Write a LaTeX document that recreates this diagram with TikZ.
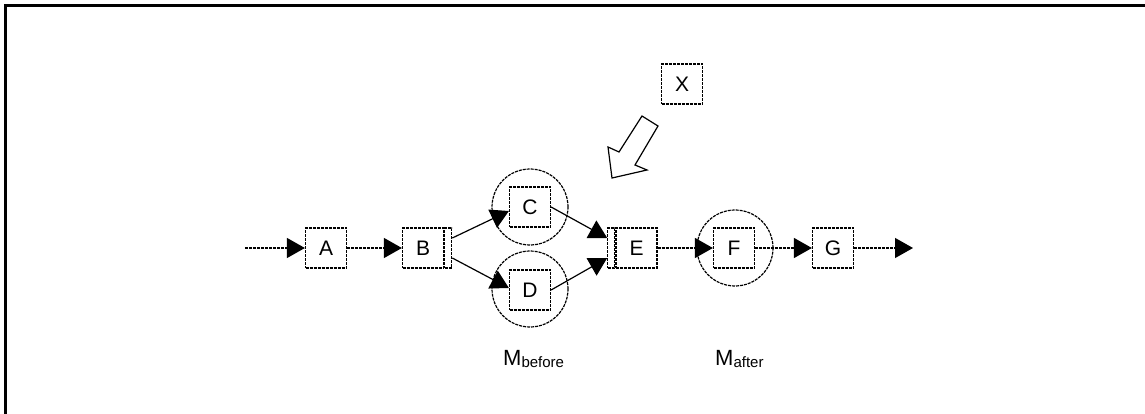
\documentclass[tikz,border=0pt]{standalone}
\usepackage{fontspec}
\setmainfont{Liberation Sans}
\usetikzlibrary{arrows.meta,positioning}
\tikzset{
  pnode/.style = {draw=black, rectangle, line width=1.2pt, dash pattern=on 3pt off 1pt, inner sep=0pt, minimum width=41pt, minimum height=40pt, font=\fontsize{21}{24}\selectfont},
  pbar/.style = {draw=black, rectangle, line width=1.2pt, dash pattern=on 3pt off 1pt, inner sep=0pt, minimum width=7pt, minimum height=40pt},
  mcircle/.style = {draw=black, circle, line width=1.2pt, dash pattern=on 3pt off 1pt, inner sep=0pt, minimum size=76pt},
  flow/.style = {line width=1.2pt, dash pattern=on 3pt off 1pt, -{Triangle[length=18pt,width=20pt]}},
  link/.style = {line width=1.2pt, -{Triangle[length=18pt,width=20pt]}},
  mlabel/.style = {anchor=base west, inner sep=0pt, font=\fontsize{22}{26}\selectfont}
}
\newcommand{\msub}[2]{#1\raisebox{-2pt}{\fontsize{15}{18}\selectfont #2}}

\begin{document}
\begin{tikzpicture}[x=1pt,y=-1pt]
\useasboundingbox (0,0) rectangle (1145,414);
\draw[line width=3pt] (5.5,414) |- (1145,5.5);

% circles round the merged steps
\node [mcircle] (mC) at (530,207) {};
\node [mcircle] (mD) at (530,289) {};
\node [mcircle] (mF) at (735,248) {};

% process steps
\node [pnode] (A) at (326,248) {A};
\node [pnode] (B) at (423,248) {B};
\node [pbar, anchor=west] (Bbar) at (B.east) {};
\node [pnode] (C) at (530,207) {C};
\node [pnode] (D) at (530,290) {D};
\node [pnode] (E) at (636.5,248) {E};
\node [pbar, anchor=east] (Ebar) at (E.west) {};
\node [pnode] (F) at (734,248) {F};
\node [pnode] (G) at (833,248) {G};
\node [pnode] (X) at (682,84) {X};
\coordinate (in) at (245,248);
\coordinate (out) at (913,248);

\draw [flow] (in) -- (A);
\draw [flow] (A) -- (B);
\draw [link] ([yshift=10pt]Bbar.east) -- ([yshift=-4pt]C.west);
\draw [link] ([yshift=-10pt]Bbar.east) -- ([yshift=2pt]D.west);
\draw [link] (C.east) -- ([yshift=10pt]Ebar.west);
\draw [link] (D.east) -- ([yshift=-10pt]Ebar.west);
\draw [flow] (E) -- (F);
\draw [flow] (F) -- (G);
\draw [flow] (G) -- (out);

% hollow arrow from X
\draw [line width=1.2pt, line join=miter] (642,116) -- (658,126) -- (635,165) -- (647,170)
  -- (612,178) -- (608,147) -- (619,152) -- cycle;

\node [mlabel] (Mb) at (503,365) {\msub{M}{before}};
\node [mlabel] (Ma) at (715,365) {\msub{M}{after}};
\end{tikzpicture}
\end{document}
